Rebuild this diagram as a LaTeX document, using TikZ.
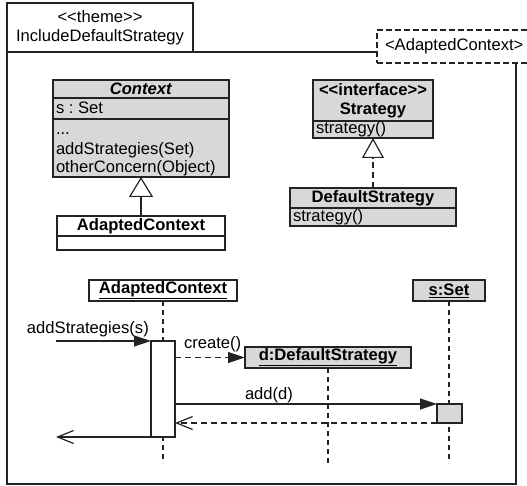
\documentclass[tikz,border=0pt]{standalone}
\usepackage{fontspec}
\setmainfont{Liberation Sans}
\usetikzlibrary{arrows.meta}
\definecolor{umlgray}{RGB}{216,216,216}
\definecolor{umlline}{RGB}{35,35,35}
\newcommand\umlfont{\fontsize{16.6}{19}\selectfont\frenchspacing}
% stereotype brackets, kept apart so they are not turned into guillemets
\newcommand\ltlt{<\kern0pt<}
\newcommand\gtgt{>\kern0pt>}

\begin{document}
\begin{tikzpicture}[x=1pt,y=-1pt,line width=1.2pt,
  every node/.style={inner sep=0pt,outer sep=0pt,font=\umlfont,text=black},
  cell/.style 2 args={draw=umlline,fill=umlgray,anchor=north west,
    minimum width=#1,minimum height=#2},
  wcell/.style 2 args={cell={#1}{#2},fill=white},
  members/.style={text width=#1,align=left,inner xsep=3pt},
  member/.style={anchor=base west},
  lifeline/.style={draw=umlline,dash pattern=on 5pt off 4pt},
  gen/.style={draw=umlline,-{Triangle[length=20pt,width=24pt,fill=white]}},
  realize/.style={draw=umlline,dash pattern=on 6pt off 4pt,
    -{Triangle[length=20pt,width=22pt,fill=white]}},
  sync/.style={draw=umlline,-{Triangle[length=17pt,width=11pt]}},
  create/.style={sync,dash pattern=on 6pt off 4pt},
  reply/.style={draw=umlline,-{Straight Barb[length=16pt,width=13pt]}},
  replyd/.style={reply,dash pattern=on 6pt off 4pt}]
\useasboundingbox (0,0) rectangle (527,486);

% theme frame with its name tab and template parameter
\node[draw=umlline,anchor=north west,minimum width=509pt,minimum height=432pt] (frame) at (7,52) {};
\node[wcell={186pt}{49pt},align=center] (tab) at (7,3) {\ltlt theme\gtgt\\IncludeDefaultStrategy};
\node[draw=umlline,fill=white,dash pattern=on 6pt off 3pt,anchor=north west,
  minimum width=153pt,minimum height=33pt] (param) at (377,30) {};
\node[anchor=west] (paramtext) at (385,46.5) {<AdaptedContext>};

% class Context
\node[cell={176pt}{18pt}] (ctxT) at (53,80) {\textbf{\textit{Context}}};
\node[cell={176pt}{21pt}] (ctxA) at (ctxT.south west) {};
\node[cell={176pt}{58pt}] (ctxM) at (ctxA.south west) {};
\node[member] (ctxAttr) at (56,114) {s : Set};
\node[member] (ctxOp0) at (56,135) {...};
\node[member] (ctxOp1) at (56,154.5) {addStrategies(Set)};
\node[member] (ctxOp2) at (56,172.5) {otherConcern(Object)};

% class AdaptedContext
\node[wcell={168pt}{20pt}] (acT) at (57,216) {\textbf{AdaptedContext}};
\node[wcell={168pt}{14pt}] (acB) at (acT.south west) {};
\draw[gen] (acT.north) -- (ctxM.south);

% interface Strategy
\node[cell={120pt}{41pt},align=center] (stT) at (313,80) {\textbf{\ltlt interface\gtgt}\\\textbf{Strategy}};
\node[cell={120pt}{17pt},members=114pt] (stM) at (stT.south west) {strategy()};

% class DefaultStrategy
\node[cell={166pt}{20pt}] (dsT) at (290,188) {\textbf{DefaultStrategy}};
\node[cell={166pt}{18pt},members=160pt] (dsM) at (dsT.south west) {strategy()};
\draw[realize] (dsT.north) -- (stM.south);

% sequence: participants
\node[wcell={148pt}{21pt}] (oAC) at (89,280) {\textbf{\underline{AdaptedContext}}};
\node[cell={72pt}{21pt}] (oSet) at (413,280) {\textbf{\underline{s:Set}}};
\node[cell={166pt}{21pt}] (oDS) at (245,347) {\textbf{\underline{d:DefaultStrategy}}};

\coordinate (endAC) at (163,463);
\coordinate (endSet) at (449,463);
\coordinate (endDS) at (328,463);
\draw[lifeline] (oAC.south) -- (endAC);
\draw[lifeline] (oSet.south) -- (endSet);
\draw[lifeline] (oDS.south) -- (endDS);

% activations
\node[wcell={24pt}{96pt}] (actAC) at (151,341) {};
\node[cell={25pt}{19pt}] (actSet) at (437,404) {};

% messages
\coordinate (callIn) at (56,341);
\draw[sync] (callIn) -- (actAC.north west);
\node[anchor=base west] (callLbl) at (27,333) {addStrategies(s)};

\draw[create] (actAC.east |- oDS.west) -- (oDS.west);
\node[anchor=base west] (createLbl) at (184,348) {create()};

\draw[sync] (actAC.east |- actSet.north west) -- (actSet.north west);
\node[anchor=base west] (addLbl) at (245,399) {add(d)};

\draw[replyd] (actSet.south west) -- (actAC.east |- actSet.south west);
\draw[reply] (actAC.south west) -- (actAC.south west -| callIn);
\end{tikzpicture}
\end{document}
